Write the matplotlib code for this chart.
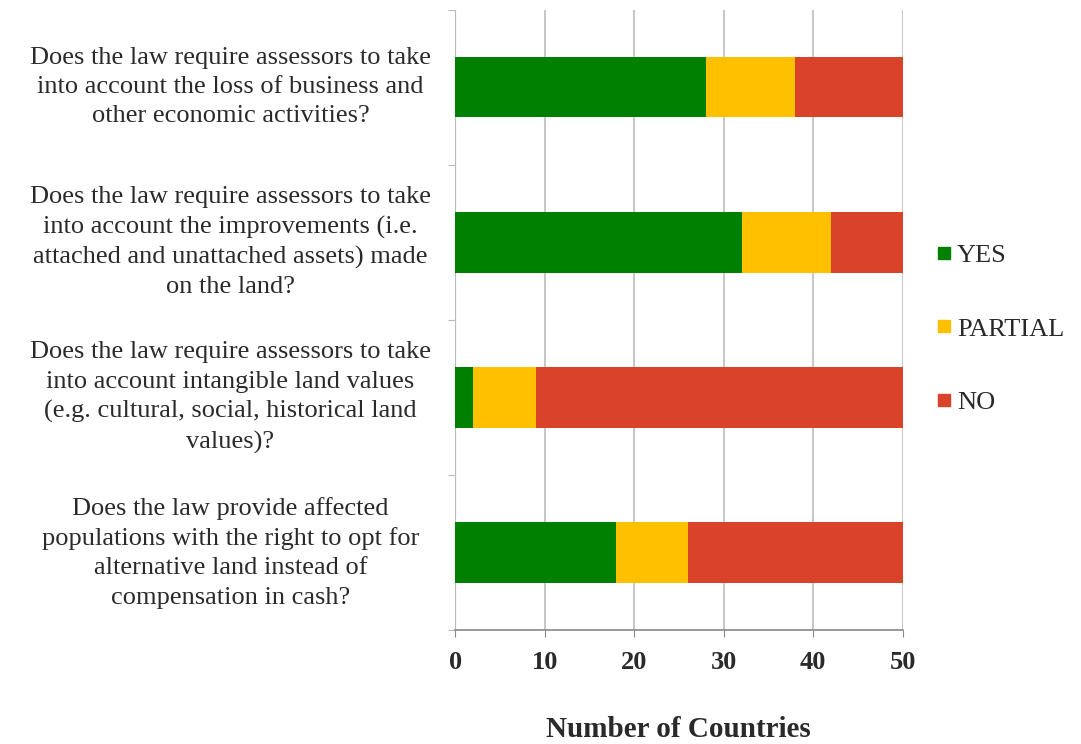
import matplotlib
matplotlib.use("Agg")
import matplotlib.pyplot as plt
from matplotlib.lines import Line2D
from matplotlib.transforms import blended_transform_factory

questions = [
    "Does the law require assessors to take\ninto account the loss of business and\nother economic activities?",
    "Does the law require assessors to take\ninto account the improvements (i.e.\nattached and unattached assets) made\non the land?",
    "Does the law require assessors to take\ninto account intangible land values\n(e.g. cultural, social, historical land\nvalues)?",
    "Does the law provide affected\npopulations with the right to opt for\nalternative land instead of\ncompensation in cash?",
]
yes = [28, 32, 2, 18]
partial = [10, 10, 7, 8]
no = [12, 8, 41, 24]
series_names = ["YES", "PARTIAL", "NO"]
colors = ["#008000", "#FFC000", "#D9432A"]
x_ticks = [0, 10, 20, 30, 40, 50]

plt.rcParams["font.family"] = ["Liberation Serif", "DejaVu Serif"]
text_color = "#2a2a2a"

fig = plt.figure(figsize=(10.81, 7.44), dpi=100)
ax = fig.add_axes([0.421, 0.153, 0.414, 0.834])

pos = list(range(len(questions)))
left = [0] * len(questions)
for values, name, color in zip([yes, partial, no], series_names, colors):
    ax.barh(pos, values, left=left, height=0.39, color=color, label=name, zorder=3)
    left = [a + b for a, b in zip(left, values)]

ax.set_xlim(0, 50)
ax.set_ylim(3.5, -0.5)
ax.set_xticks(x_ticks)
ax.set_xticklabels([str(t) for t in x_ticks], fontsize=19, fontweight="bold", color=text_color)
ax.tick_params(axis="x", length=5, pad=10, color="#888888")
ax.set_yticks([-0.5, 0.5, 1.5, 2.5, 3.5])
ax.set_yticklabels([])
ax.tick_params(axis="y", length=5, color="#bbbbbb")
ax.grid(axis="x", color="#c8c8c8", linewidth=1.5, zorder=0)

for side in ["top", "right"]:
    ax.spines[side].set_visible(False)
ax.spines["left"].set_color("#bbbbbb")
ax.spines["bottom"].set_color("#888888")
ax.spines["bottom"].set_linewidth(1.2)

trans = blended_transform_factory(ax.transAxes, ax.transData)
for p, q in zip(pos, questions):
    ax.text(-0.502, p, q, transform=trans, ha="center", va="center",
            multialignment="center", fontsize=19, color=text_color, linespacing=1.42)

ax.set_xlabel("Number of Countries", fontsize=21, fontweight="bold", color=text_color, labelpad=30)

handles = [Line2D([], [], marker="s", linestyle="none", markersize=9, color=c) for c in colors]
fig.legend(handles, series_names, loc="center left", bbox_to_anchor=(0.84, 0.558),
           frameon=False, labelspacing=1.9, handletextpad=0.05, handlelength=0.9,
           prop={"size": 19}, labelcolor=text_color)

fig.savefig("out.png", dpi=100)
